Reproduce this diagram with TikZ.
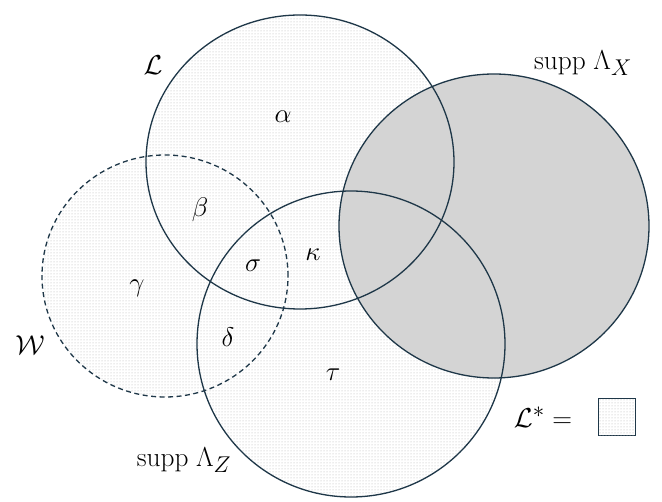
\documentclass[tikz,border=0pt]{standalone}
\usetikzlibrary{patterns}
\definecolor{edgec}{RGB}{30,55,72}
\definecolor{xfill}{RGB}{212,212,212}
\tikzset{
  dotfill/.style={fill=white, postaction={pattern=dots, pattern color=black!30}},
  grayfill/.style={fill=xfill},
  outl/.style={draw=edgec, line width=1.3pt},
  dashedoutl/.style={draw=edgec, line width=1.3pt, dash pattern=on 5pt off 3.5pt},
  lab/.style={font=\huge, scale=1.3, inner sep=0pt},
  biglab/.style={font=\Huge, scale=1.1, inner sep=0pt}
}
\begin{document}
\begin{tikzpicture}[x=1pt,y=-1pt]
\useasboundingbox (0,0) rectangle (662,502);
\fill[white] (0,0) rectangle (662,502);
% fills
\path[dotfill] (300,162) ellipse [x radius=154pt, y radius=147pt];
\path[dotfill] (165,276) ellipse [x radius=123pt, y radius=121pt];
\path[dotfill] (351,344) ellipse [x radius=154pt, y radius=153pt];
\path[grayfill] (494,226) ellipse [x radius=155pt, y radius=152pt];
% outlines
\draw[outl] (300,162) ellipse [x radius=154pt, y radius=147pt];
\draw[dashedoutl] (165,276) ellipse [x radius=123pt, y radius=121pt];
\draw[outl] (351,344) ellipse [x radius=154pt, y radius=153pt];
\draw[outl] (494,226) ellipse [x radius=155pt, y radius=152pt];
% set labels
\node[biglab] (lL) at (153,65) {$\mathcal{L}$};
\node[biglab] (lX) at (583,63) {$\mathrm{supp}\;\Lambda_X$};
\node[biglab] (lW) at (30,345) {$\mathcal{W}$};
\node[biglab] (lZ) at (184,460) {$\mathrm{supp}\;\Lambda_Z$};
% region labels
\node[lab] (ra) at (283,117) {$\alpha$};
\node[lab] (rb) at (200,210) {$\beta$};
\node[lab] (rg) at (137,288) {$\gamma$};
\node[lab] (rs) at (253,266) {$\sigma$};
\node[lab] (rk) at (313,255) {$\kappa$};
\node[lab] (rd) at (228,337) {$\delta$};
\node[lab] (rt) at (333,375) {$\tau$};
% legend
\node[biglab] (leg) at (543,417) {$\mathcal{L}^{*}=$};
\node[outl, dotfill, minimum width=37pt, minimum height=37pt, inner sep=0pt] (legbox) at (617,417) {};
\end{tikzpicture}
\end{document}
